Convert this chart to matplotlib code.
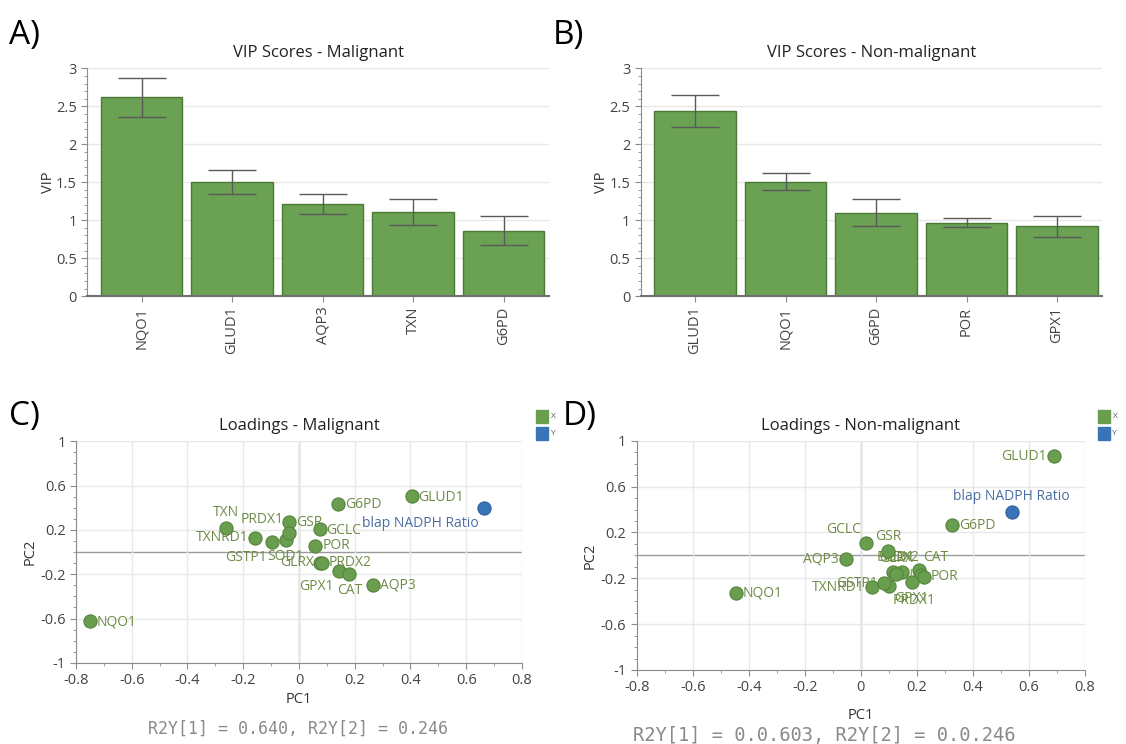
import matplotlib
matplotlib.use("Agg")
import matplotlib.pyplot as plt
from matplotlib.patches import Rectangle
from matplotlib.ticker import MultipleLocator

plt.rcParams['font.family'] = ['Open Sans', 'DejaVu Sans']

# VIP data
vip_mal_genes = ["NQO1", "GLUD1", "AQP3", "TXN", "G6PD"]
vip_mal = [2.62, 1.50, 1.21, 1.11, 0.86]
vip_mal_err = [0.26, 0.16, 0.13, 0.17, 0.19]

vip_non_genes = ["GLUD1", "NQO1", "G6PD", "POR", "GPX1"]
vip_non = [2.44, 1.51, 1.10, 0.97, 0.92]
vip_non_err = [0.21, 0.11, 0.175, 0.06, 0.135]

# Loadings - malignant
load_mal_genes = ["NQO1", "TXN", "TXNRD1", "GSTP1", "SOD1", "GSR", "PRDX1", "GCLC",
                  "POR", "GLRX", "PRDX2", "GPX1", "CAT", "AQP3", "G6PD", "GLUD1"]
load_mal_pc1 = [-0.75, -0.261, -0.156, -0.095, -0.048, -0.036, -0.037, 0.077,
                0.059, 0.077, 0.084, 0.144, 0.181, 0.266, 0.139, 0.404]
load_mal_pc2 = [-0.618, 0.218, 0.131, 0.089, 0.113, 0.275, 0.173, 0.206,
                0.056, -0.095, -0.095, -0.173, -0.197, -0.299, 0.435, 0.504]
y_mal = (0.663, 0.395)

# Loadings - non-malignant
load_non_genes = ["GLUD1", "G6PD", "GCLC", "GSR", "AQP3", "NQO1", "SOD1", "PRDX2",
                  "GLRX", "CAT", "TXN", "POR", "GPX1", "PRDX1", "TXNRD1", "GSTP1"]
load_non_pc1 = [0.688, 0.327, 0.020, 0.097, -0.053, -0.447, 0.114, 0.148,
                0.125, 0.206, 0.215, 0.225, 0.181, 0.099, 0.040, 0.082]
load_non_pc2 = [0.866, 0.261, 0.112, 0.036, -0.028, -0.328, -0.145, -0.145,
                -0.160, -0.131, -0.175, -0.185, -0.231, -0.266, -0.279, -0.245]
y_non = (0.538, 0.381)

# label placement (offset pixels, alignment)
lab_mal = {"NQO1": (7, -1, "left"), "TXN": (0, 15, "center"), "TXNRD1": (-7, 0, "right"),
           "GSTP1": (-6, -15, "right"), "SOD1": (0, -17, "center"), "GSR": (7, -1, "left"),
           "PRDX1": (-5, 13, "right"), "GCLC": (6, -1, "left"), "POR": (7, 0, "left"),
           "GLRX": (-6, 0, "right"), "PRDX2": (6, 0, "left"), "GPX1": (-5, -15, "right"),
           "CAT": (0, -17, "center"), "AQP3": (7, 0, "left"), "G6PD": (7, -1, "left"),
           "GLUD1": (7, -1, "left")}
lab_non = {"GLUD1": (-7, 0, "right"), "G6PD": (7, 0, "left"), "GCLC": (-5, 13, "right"),
           "GSR": (0, 15, "center"), "AQP3": (-7, 0, "right"), "NQO1": (7, 0, "left"),
           "SOD1": (4, 15, "center"), "PRDX2": (-4, 15, "center"), "GLRX": (0, 15, "center"),
           "CAT": (5, 13, "left"), "TXN": (-7, 0, "right"), "POR": (7, 0, "left"),
           "GPX1": (0, -17, "center"), "PRDX1": (4, -15, "left"), "TXNRD1": (-7, 0, "right"),
           "GSTP1": (-6, 0, "right")}

BAR = "#6aa153"
BAR_EDGE = "#4a7a36"
PT_X = "#6a9e4f"
PT_X_EDGE = "#55843c"
PT_Y = "#3a74b8"
TXT_X = "#6f8c47"
TXT_Y = "#4b6ea3"
GRID = "#e8e8e8"
AXC = "#8c8c8c"

fig = plt.figure(figsize=(11.26, 7.44), dpi=100)


def vip_panel(rect, genes, vals, errs, title, letter, lx):
    ax = fig.add_axes(rect)
    x = list(range(len(genes)))
    ax.bar(x, vals, width=0.9, color=BAR, edgecolor=BAR_EDGE, linewidth=1, zorder=2)
    ax.errorbar(x, vals, yerr=errs, fmt="none", ecolor="#5a5a5a", elinewidth=1,
                capsize=17, capthick=1, zorder=3)
    ax.set_xlim(-0.6, 4.5)
    ax.set_ylim(0, 3)
    ax.set_yticks([0, 0.5, 1, 1.5, 2, 2.5, 3])
    ax.set_yticklabels(["0", "0.5", "1", "1.5", "2", "2.5", "3"])
    ax.yaxis.set_minor_locator(MultipleLocator(0.1))
    ax.set_xticks(x)
    ax.set_xticklabels(genes, rotation=90)
    ax.grid(axis="y", color=GRID, linewidth=1, zorder=0)
    for s in ["top", "right"]:
        ax.spines[s].set_visible(False)
    ax.spines["left"].set_color(AXC)
    ax.spines["bottom"].set_color("#707070")
    ax.spines["bottom"].set_linewidth(1.5)
    ax.tick_params(axis="both", colors="#444444", labelsize=10.5, length=4, color=AXC)
    ax.tick_params(axis="y", which="minor", length=2, color=AXC)
    ax.set_ylabel("VIP", fontsize=10.5, color="#333333", labelpad=0)
    ax.set_title(title, fontsize=12, color="#222222", pad=8)
    fig.text(lx, 0.975, letter, fontsize=24, va="top", ha="left")
    return ax


def load_panel(rect, genes, pc1, pc2, yload, labels):
    ax = fig.add_axes(rect)
    ax.set_xlim(-0.8, 0.8)
    ax.set_ylim(-1, 1)
    ax.set_xticks([-0.8, -0.6, -0.4, -0.2, 0, 0.2, 0.4, 0.6, 0.8])
    ax.set_xticklabels(["-0.8", "-0.6", "-0.4", "-0.2", "0", "0.2", "0.4", "0.6", "0.8"])
    ax.set_yticks([-1, -0.6, -0.2, 0.2, 0.6, 1])
    ax.set_yticklabels(["-1", "-0.6", "-0.2", "0.2", "0.6", "1"])
    ax.xaxis.set_minor_locator(MultipleLocator(0.1))
    ax.yaxis.set_minor_locator(MultipleLocator(0.1))
    ax.grid(which="major", color=GRID, linewidth=1, zorder=0)
    ax.axhline(0, color="#9a9a9a", linewidth=1, zorder=1)
    ax.axvline(0, color="#9a9a9a", linewidth=1, zorder=1)
    for s in ["top", "right"]:
        ax.spines[s].set_visible(False)
    ax.spines["left"].set_color(AXC)
    ax.spines["bottom"].set_color(AXC)
    ax.tick_params(axis="both", colors="#444444", labelsize=10.5, length=4, color=AXC)
    ax.tick_params(which="minor", length=2, color=AXC)
    for g, a, b in zip(genes, pc1, pc2):
        dx, dy, ha = labels[g]
        ax.annotate(g, (a, b), xytext=(dx, dy), textcoords="offset pixels",
                    ha=ha, va="center", fontsize=10, color=TXT_X, zorder=2)
    ax.scatter(pc1, pc2, s=90, color=PT_X, edgecolors=PT_X_EDGE, linewidths=0.8, zorder=4)
    ax.scatter([yload[0]], [yload[1]], s=90, color=PT_Y, edgecolors="#2f5f99",
               linewidths=0.8, zorder=4)
    return ax


vip_panel([0.0775, 0.602, 0.410, 0.306], vip_mal_genes, vip_mal, vip_mal_err,
          "VIP Scores - Malignant", "A)", 0.008)
vip_panel([0.569, 0.602, 0.410, 0.306], vip_non_genes, vip_non, vip_non_err,
          "VIP Scores - Non-malignant", "B)", 0.491)

axc = load_panel([0.0675, 0.109, 0.396, 0.298], load_mal_genes, load_mal_pc1, load_mal_pc2,
                 y_mal, lab_mal)
axc.annotate("blap NADPH Ratio", y_mal, xytext=(-5, -15), textcoords="offset pixels",
             ha="right", va="center", fontsize=10, color=TXT_Y, zorder=2)
axc.set_xlabel("PC1", fontsize=10.5, color="#333333", labelpad=3)
axc.set_ylabel("PC2", fontsize=10.5, color="#333333", labelpad=2)
axc.set_title("Loadings - Malignant", fontsize=12, color="#222222", pad=8)

axd = load_panel([0.5655, 0.0995, 0.398, 0.308], load_non_genes, load_non_pc1, load_non_pc2,
                 y_non, lab_non)
axd.annotate("blap NADPH Ratio", y_non, xytext=(0, 15), textcoords="offset pixels",
             ha="center", va="center", fontsize=10, color=TXT_Y, zorder=2)
axd.set_xlabel("PC1", fontsize=10.5, color="#333333", labelpad=9)
axd.set_ylabel("PC2", fontsize=10.5, color="#333333", labelpad=2)
axd.set_title("Loadings - Non-malignant", fontsize=12, color="#222222", pad=8)

fig.text(0.008, 0.462, "C)", fontsize=24, va="top", ha="left")
fig.text(0.500, 0.462, "D)", fontsize=24, va="top", ha="left")

# X / Y legends
for lx in [0.476, 0.975]:
    fig.add_artist(Rectangle((lx, 0.432), 0.011, 0.017, transform=fig.transFigure,
                             color=PT_X))
    fig.add_artist(Rectangle((lx, 0.409), 0.011, 0.017, transform=fig.transFigure,
                             color=PT_Y))
    fig.text(lx + 0.013, 0.44, "X", fontsize=6, color="#555555", va="center")
    fig.text(lx + 0.013, 0.417, "Y", fontsize=6, color="#555555", va="center")

fig.text(0.265, 0.021, "R2Y[1] = 0.640, R2Y[2] = 0.246", family="DejaVu Sans Mono",
         fontsize=12, color="#8a8a8a", ha="center", va="center")
fig.text(0.732, 0.012, "R2Y[1] = 0.0.603, R2Y[2] = 0.0.246", family="DejaVu Sans Mono",
         fontsize=13.5, color="#8a8a8a", ha="center", va="center")

fig.savefig("out.png", dpi=100, facecolor="white")
